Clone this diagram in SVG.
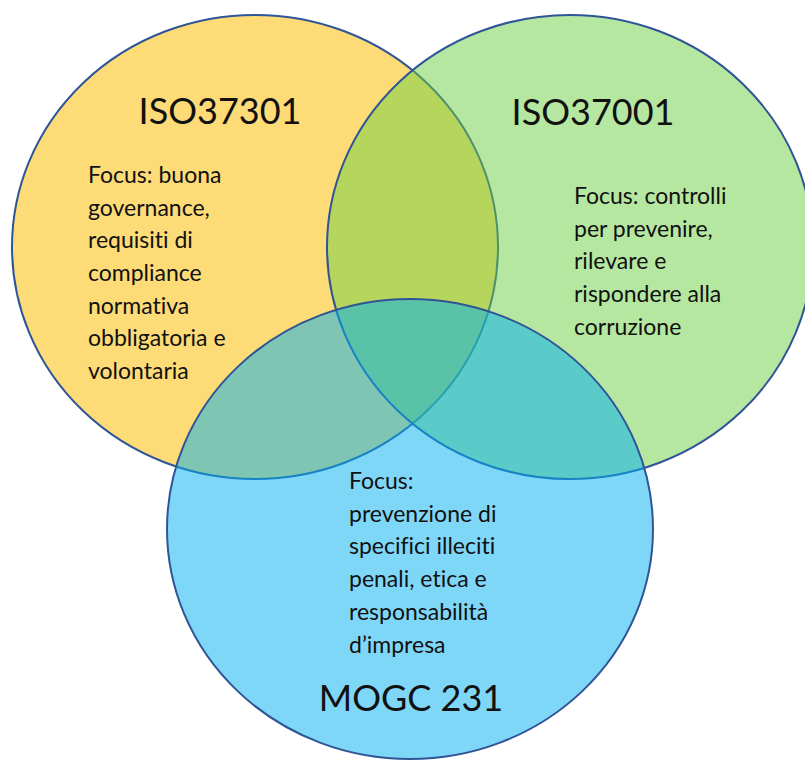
<svg xmlns="http://www.w3.org/2000/svg" width="805" height="760" viewBox="0 0 805 760">
  <style>
    .set { stroke: #2F5597; stroke-width: 2; }
    text { font-variant-ligatures: none; font-feature-settings: "liga" 0, "clig" 0; }
    .title { font-family: Lato, "Liberation Sans", sans-serif; font-size: 36px; fill: #111; text-anchor: middle; }
    .body { font-family: Lato, "Liberation Sans", sans-serif; font-size: 23px; fill: #111; }
  </style>
  <rect width="805" height="760" fill="#ffffff"/>
  <g id="iso37301">
    <ellipse class="set" cx="255" cy="247" rx="243" ry="232" fill="#FDDB77"/>
    <text class="title" x="220" y="124">ISO37301</text>
    <text class="body">
      <tspan x="88" y="183">Focus: buona</tspan>
      <tspan x="88" y="216">governance,</tspan>
      <tspan x="88" y="248">requisiti di</tspan>
      <tspan x="88" y="281">compliance</tspan>
      <tspan x="88" y="314">normativa</tspan>
      <tspan x="88" y="346">obbligatoria e</tspan>
      <tspan x="88" y="379">volontaria</tspan>
    </text>
  </g>
  <g id="iso37001">
    <ellipse class="set" cx="570" cy="247" rx="243" ry="232" fill="#6DCF41" fill-opacity="0.5"/>
    <text class="title" x="593" y="125">ISO37001</text>
    <text class="body">
      <tspan x="574" y="204">Focus: controlli</tspan>
      <tspan x="574" y="237">per prevenire,</tspan>
      <tspan x="574" y="269">rilevare e</tspan>
      <tspan x="574" y="302">rispondere alla</tspan>
      <tspan x="574" y="335">corruzione</tspan>
    </text>
  </g>
  <g id="mogc231">
    <ellipse class="set" cx="410" cy="529" rx="243" ry="230" fill="#00AFF1" fill-opacity="0.5"/>
    <text class="body">
      <tspan x="349" y="489">Focus:</tspan>
      <tspan x="349" y="522">prevenzione di</tspan>
      <tspan x="349" y="554">specifici illeciti</tspan>
      <tspan x="349" y="587">penali, etica e</tspan>
      <tspan x="349" y="620">responsabilità</tspan>
      <tspan x="349" y="653">d’impresa</tspan>
    </text>
    <text class="title" x="411" y="711">MOGC 231</text>
  </g>
</svg>
